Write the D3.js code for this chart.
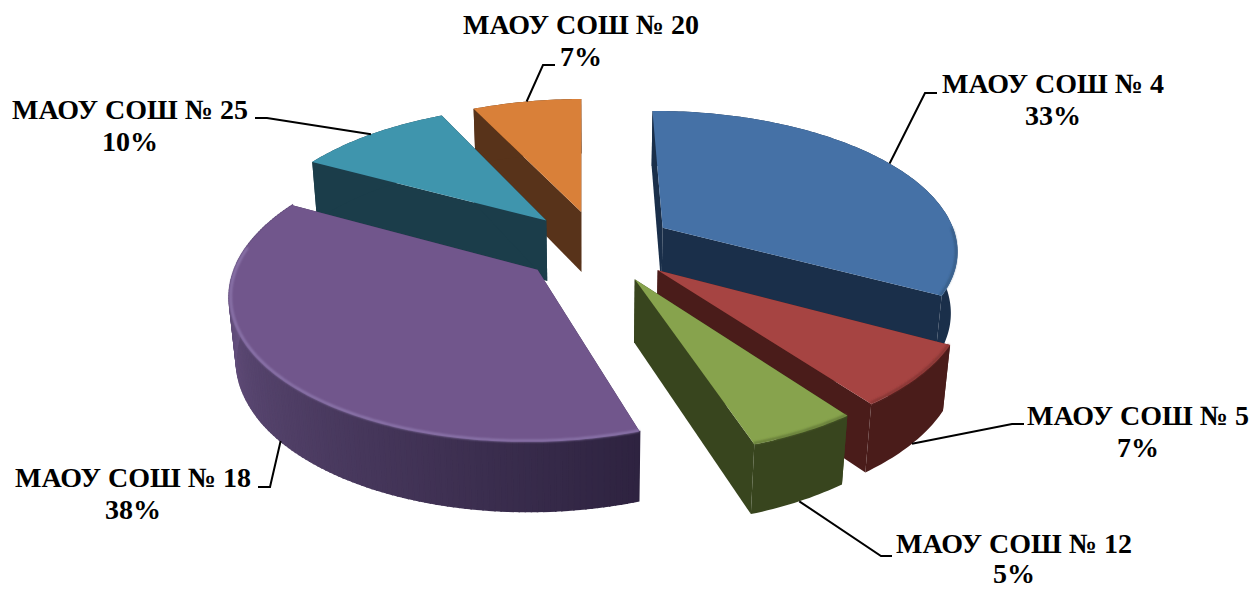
<!DOCTYPE html>
<html>
<head>
<meta charset="utf-8">
<script src="https://cdn.jsdelivr.net/npm/d3@7"></script>
<style>
html, body { margin: 0; padding: 0; background: #fff; }
svg { display: block; }
text { font-family: "Liberation Serif", serif; font-weight: bold; font-size: 28px; fill: #000; text-anchor: middle; }
</style>
</head>
<body>
<div id="chart"></div>
<script>
// Chart data
var schools = ["МАОУ СОШ № 4", "МАОУ СОШ № 5", "МАОУ СОШ № 12", "МАОУ СОШ № 18", "МАОУ СОШ № 25", "МАОУ СОШ № 20"];
var percents = [33, 7, 5, 38, 10, 7];

// Colours per slice
var topColors = ["#4571a6", "#a64442", "#87a34d", "#71568c", "#3f95ad", "#d98039"];
var sideColors = ["#1a2f4a", "#4a1c1a", "#38451e", "#3f2f52", "#1b3d4a", "#58331a"];
var rimColors = ["#34587f", "#7d3230", "#5d7235", "#927db2", "#3f95ad", "#d98039"];

// Label layout: text centre, first baseline, line gap, leader elbow and end, rim level of the leader
var labelLayout = [
    { x: 1053, y: 93, gap: 32, elbow: [925, 93], end: [937, 93], onWall: false },
    { x: 1138, y: 425, gap: 32, elbow: [1012, 424], end: [1024, 424], onWall: true },
    { x: 1014, y: 553, gap: 30, elbow: [881, 556], end: [892, 556], onWall: true },
    { x: 133, y: 487, gap: 32, elbow: [270, 487], end: [258, 487], onWall: true },
    { x: 130, y: 119, gap: 32, elbow: [267, 118], end: [255, 118], onWall: false },
    { x: 581, y: 34, gap: 32, elbow: [543, 65], end: [555, 65], onWall: false }
];

var width = 1255, height = 589;

// Camera for the tilted pie, radius = 1
var cx = 598, cy = 246;
var tilt = 28 * Math.PI / 180;
var camDist = 6;
var zoom = 296;
var thickness = 0.24;
var explode = 0.26;
var firstAngle = -0.008; // the pie is turned a little to the left

function project(px, py, pz) {
    var up = -py * Math.sin(tilt) + pz * Math.cos(tilt);
    var d = 1 - (py * Math.cos(tilt) + pz * Math.sin(tilt)) / camDist;
    return [cx + zoom * px / d, cy - zoom * up / d];
}

// Point on a slice: r from its apex at angle a (0 = back, clockwise), z below the top
function slicePoint(d, r, a, z) {
    var mid = (d.startAngle + d.endAngle) / 2;
    return project(
        explode * Math.sin(mid) + r * Math.sin(a),
        -explode * Math.cos(mid) - r * Math.cos(a),
        -z
    );
}

var pie = d3.pie().sort(null)
    .startAngle(firstAngle)
    .endAngle(firstAngle + 2 * Math.PI)
    .value(function(d) { return d; });
var arcs = pie(percents);
var line = d3.line();

var svg = d3.select("#chart").append("svg")
    .attr("width", width)
    .attr("height", height);

svg.append("defs").append("filter")
    .attr("id", "soft")
    .append("feGaussianBlur")
    .attr("stdDeviation", 1);

function arcAngles(d, from, to) {
    var a0 = Math.max(from, d.startAngle), a1 = Math.min(to, d.endAngle);
    var n = Math.max(1, Math.ceil((a1 - a0) / (Math.PI / 180)));
    return d3.range(n + 1).map(function(i) { return a0 + (a1 - a0) * i / n; });
}

// Purple wall runs from a lighter left side to a dark right side
var purpleWall = d3.scaleLinear()
    .domain([Math.PI * 0.9, Math.PI * 1.5])
    .range(["#2e2340", "#66517f"])
    .clamp(true);

// Back slices first
var drawOrder = [5, 4, 0, 1, 3, 2];

drawOrder.forEach(function(i) {
    var d = arcs[i];
    var g = svg.append("g").attr("class", "slice");

    // Cut faces
    [d.startAngle, d.endAngle].forEach(function(a) {
        g.append("path")
            .attr("d", line([
                slicePoint(d, 0, a, 0),
                slicePoint(d, 1, a, 0),
                slicePoint(d, 1, a, thickness),
                slicePoint(d, 0, a, thickness)
            ]) + "Z")
            .attr("fill", sideColors[i]);
    });

    var angles = arcAngles(d, d.startAngle, d.endAngle);

    // Outer wall: thin strips for the shaded purple one, one shape for the rest
    if (i === 3) {
        d3.pairs(angles).forEach(function(p) {
            var color = purpleWall((p[0] + p[1]) / 2);
            g.append("path")
                .attr("d", line([
                    slicePoint(d, 1, p[0], 0),
                    slicePoint(d, 1, p[1], 0),
                    slicePoint(d, 1, p[1], thickness),
                    slicePoint(d, 1, p[0], thickness)
                ]) + "Z")
                .attr("fill", color)
                .attr("stroke", color)
                .attr("stroke-width", 1.5);
        });
    } else {
        var wall = angles.map(function(a) { return slicePoint(d, 1, a, 0); })
            .concat(angles.slice().reverse().map(function(a) { return slicePoint(d, 1, a, thickness); }));
        g.append("path")
            .attr("d", line(wall) + "Z")
            .attr("fill", sideColors[i]);
    }

    // Top face
    var outline = [slicePoint(d, 0, 0, 0)].concat(angles.map(function(a) {
        return slicePoint(d, 1, a, 0);
    }));
    g.append("path")
        .attr("d", line(outline) + "Z")
        .attr("fill", topColors[i]);

    // Soft bevel along the front of the rim
    var rimAngles = arcAngles(d, Math.PI * 0.5, Math.PI * 1.55);
    if (rimAngles[0] < rimAngles[rimAngles.length - 1]) {
        g.append("path")
            .attr("d", line(rimAngles.map(function(a) { return slicePoint(d, 0.995, a, 0); })))
            .attr("fill", "none")
            .attr("stroke", rimColors[i])
            .attr("stroke-width", 2)
            .attr("filter", "url(#soft)");
    }
});

// Leader lines
arcs.forEach(function(d, i) {
    var mid = (d.startAngle + d.endAngle) / 2;
    var layout = labelLayout[i];
    svg.append("path")
        .attr("d", line([
            slicePoint(d, 1, mid, layout.onWall ? thickness : 0),
            layout.elbow,
            layout.end
        ]))
        .attr("fill", "none")
        .attr("stroke", "#000")
        .attr("stroke-width", 2);
});

// Labels, two lines each
arcs.forEach(function(d, i) {
    var layout = labelLayout[i];
    var text = svg.append("text").attr("x", layout.x).attr("y", layout.y);
    text.append("tspan").attr("x", layout.x).text(schools[i]);
    text.append("tspan").attr("x", layout.x).attr("dy", layout.gap).text(percents[i] + "%");
});
</script>
</body>
</html>
